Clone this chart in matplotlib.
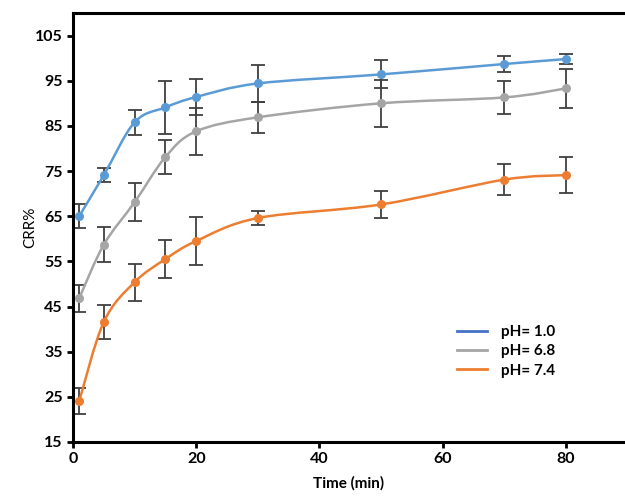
import numpy as np
import matplotlib
matplotlib.use('Agg')
import matplotlib.pyplot as plt
from matplotlib.path import Path
from matplotlib.patches import PathPatch
from matplotlib.lines import Line2D

time_min = [1, 5, 10, 15, 20, 30, 50, 70, 80]

ph10 = [65.0, 74.1, 85.8, 89.1, 91.4, 94.4, 96.4, 98.7, 99.8]
ph10_err = [2.7, 1.5, 2.8, 5.8, 3.9, 4.0, 3.1, 1.8, 1.1]

ph68 = [46.8, 58.7, 68.1, 78.1, 83.8, 86.9, 90.0, 91.3, 93.3]
ph68_err = [3.0, 3.8, 4.2, 3.8, 5.2, 3.5, 5.2, 3.7, 4.4]

ph74 = [24.0, 41.6, 50.4, 55.5, 59.5, 64.6, 67.6, 73.1, 74.1]
ph74_err = [2.9, 3.7, 4.1, 4.2, 5.4, 1.5, 2.9, 3.4, 4.0]

labels = ['pH= 1.0', 'pH= 6.8', 'pH= 7.4']
colors = ['#5B9BD5', '#A5A5A5', '#ED7D31']
legend_colors = ['#4472C4', '#A5A5A5', '#ED7D31']

plt.rcParams['font.family'] = ['Lato', 'DejaVu Sans']


def smooth_path(x, y):
    # excel-like smoothed line as cubic bezier segments
    p = np.column_stack([x, y]).astype(float)
    verts = [p[0]]
    codes = [Path.MOVETO]
    n = len(p)
    for i in range(n - 1):
        p0 = p[i - 1] if i > 0 else p[i]
        p3 = p[i + 2] if i + 2 < n else p[i + 1]
        c1 = p[i] + (p[i + 1] - p0) / 6.0
        c2 = p[i + 1] - (p3 - p[i]) / 6.0
        verts += [c1, c2, p[i + 1]]
        codes += [Path.CURVE4] * 3
    return Path(verts, codes)


fig = plt.figure(figsize=(6.25, 4.96), dpi=100)
ax = fig.add_axes([0.1168, 0.1089, 0.8832, 0.8649])

series = [(ph10, ph10_err), (ph68, ph68_err), (ph74, ph74_err)]
for (vals, err), c in zip(series, colors):
    ax.errorbar(time_min, vals, yerr=err, fmt='none', ecolor='#404040',
                elinewidth=1.3, capsize=5, capthick=1.3, zorder=2)
    ax.add_patch(PathPatch(smooth_path(time_min, vals), facecolor='none',
                           edgecolor=c, lw=1.8, zorder=3))
    ax.plot(time_min, vals, 'o', color=c, ms=5.5, zorder=4)

ax.set_xlim(0, 89.6)
ax.set_ylim(15, 110)
ax.set_xticks([0, 20, 40, 60, 80])
ax.set_yticks(np.arange(15, 106, 10))

for s in ['left', 'bottom', 'top']:
    ax.spines[s].set_linewidth(2.2)
ax.spines['right'].set_visible(False)
ax.tick_params(direction='out', length=4, width=2, labelsize=11.5)
for t in ax.get_xticklabels() + ax.get_yticklabels():
    t.set_fontweight('bold')

ax.set_xlabel('Time (min)', fontsize=11, fontweight='bold', labelpad=7)
ax.set_ylabel('CRR%', fontsize=11)
ax.yaxis.set_label_coords(-0.064, 0.5)

handles = [Line2D([], [], color=c, lw=2) for c in legend_colors]
leg = ax.legend(handles, labels, loc='upper left', bbox_to_anchor=(0.67, 0.305),
                frameon=False, handlelength=2.0, handletextpad=0.9,
                labelspacing=0.35, prop={'weight': 'bold', 'size': 11})

fig.savefig('out.png', dpi=100)
